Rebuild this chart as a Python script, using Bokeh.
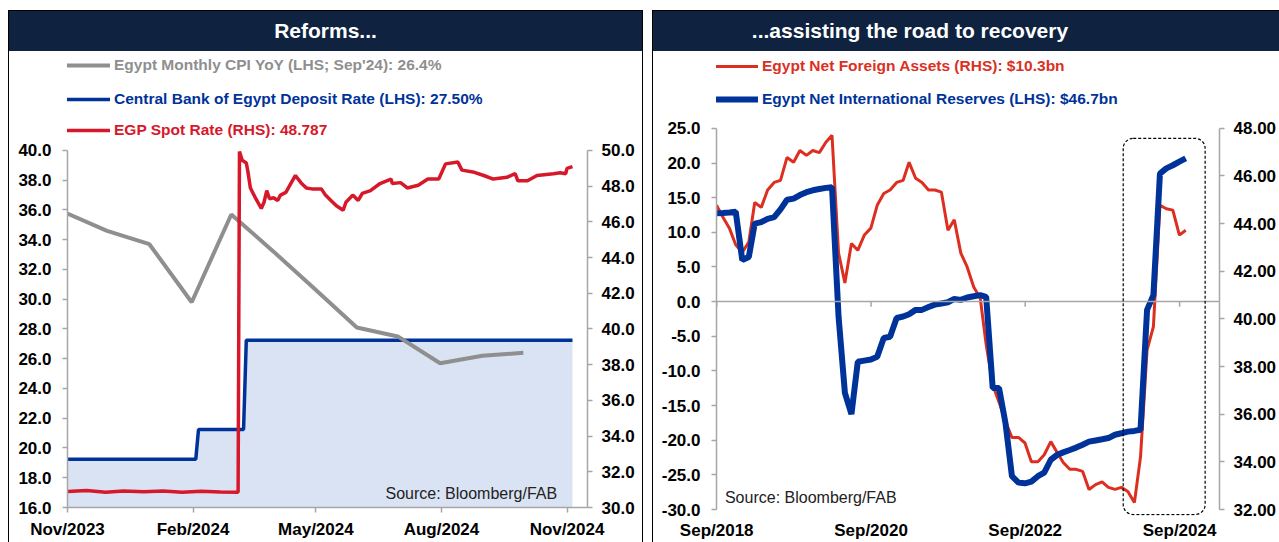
import pandas as pd
from bokeh.plotting import figure
from bokeh.models import (Range1d, LinearAxis, DatetimeTickFormatter, FixedTicker, Legend,
                          LegendItem, Label, Span, BoxAnnotation, NumeralTickFormatter, Div)
from bokeh.layouts import row, column
from bokeh.embed import file_html
from bokeh.resources import INLINE

# ---------------- data : left panel ("Reforms...") ----------------
cpi_dates = ["2023-10-31", "2023-11-30", "2023-12-31", "2024-01-31", "2024-02-29", "2024-03-31",
             "2024-04-30", "2024-05-31", "2024-06-30", "2024-07-31", "2024-08-31", "2024-09-30"]
cpi_yoy = [35.8, 34.6, 33.7, 29.8, 35.7, 33.2, 30.7, 28.1, 27.5, 25.7, 26.2, 26.4]

dep_dates = ["2023-11-01", "2024-02-03", "2024-02-05", "2024-03-09", "2024-03-11", "2024-11-05"]
dep_rate = [19.25, 19.25, 21.25, 21.25, 27.25, 27.25]

fx_dates = ["2023-11-01", "2023-11-15", "2023-11-29", "2023-12-12", "2023-12-27", "2024-01-10",
            "2024-01-24", "2024-02-07", "2024-02-21", "2024-03-05", "2024-03-06", "2024-03-08",
            "2024-03-11", "2024-03-12", "2024-03-14", "2024-03-18", "2024-03-22", "2024-03-24",
            "2024-03-26", "2024-03-28", "2024-03-31", "2024-04-03", "2024-04-05", "2024-04-09",
            "2024-04-13", "2024-04-16", "2024-04-20", "2024-04-24", "2024-04-28", "2024-05-05",
            "2024-05-08", "2024-05-12", "2024-05-16", "2024-05-21", "2024-05-23", "2024-05-28",
            "2024-06-01", "2024-06-04", "2024-06-10", "2024-06-17", "2024-06-25", "2024-06-26",
            "2024-07-02", "2024-07-07", "2024-07-15", "2024-07-22", "2024-07-30", "2024-08-04",
            "2024-08-13", "2024-08-16", "2024-08-24", "2024-09-01", "2024-09-08", "2024-09-18",
            "2024-09-24", "2024-09-26", "2024-10-03", "2024-10-10", "2024-10-22", "2024-10-27",
            "2024-10-31", "2024-11-01", "2024-11-05"]
fx_rate = [30.90, 30.95, 30.85, 30.92, 30.88, 30.93, 30.86, 30.91, 30.87, 30.85, 49.95, 49.45,
           49.3, 48.9, 47.9, 47.3, 46.75, 47.1, 47.75, 47.3, 47.35, 47.2, 47.5, 47.65,
           48.2, 48.6, 48.2, 47.9, 47.85, 47.85, 47.5, 47.2, 46.9, 46.65, 47.1, 47.5,
           47.2, 47.6, 47.75, 48.15, 48.4, 48.15, 48.2, 47.9, 48.05, 48.4, 48.4, 49.25,
           49.35, 48.9, 48.8, 48.6, 48.4, 48.5, 48.7, 48.3, 48.3, 48.6, 48.7, 48.75,
           48.7, 49.0, 49.1]

left_x_ticks = ["2023-11-01", "2024-02-01", "2024-05-01", "2024-08-01", "2024-11-01"]
left_lhs_ticks = [16, 18, 20, 22, 24, 26, 28, 30, 32, 34, 36, 38, 40]
left_rhs_ticks = [30, 32, 34, 36, 38, 40, 42, 44, 46, 48, 50]

# ---------------- data : right panel ("...assisting the road to recovery") ----------------
nfa_bn = [13.9, 12.2, 10.6, 8.2, 7.1, 8.6, 14.3, 13.6, 16.1, 17.2, 17.5, 20.8,
          20.1, 21.8, 21.1, 21.8, 21.5, 23.0, 24.0, 7.0, 2.7, 8.4, 7.4, 9.6,
          10.6, 13.9, 15.6, 16.1, 17.2, 17.5, 20.1, 17.8, 17.2, 16.1, 16.1, 15.8,
          10.3, 11.8, 7.0, 5.0, 2.1, 0.5, -6.2, -12.0, -14.5, -17.3, -19.6, -19.6,
          -20.4, -23.1, -23.1, -22.1, -20.2, -21.8, -23.2, -24.2, -24.2, -24.5, -27.1, -26.4,
          -26.0, -26.8, -27.1, -26.8, -27.4, -29.0, -22.4, -7.0, -3.6, 13.9, 13.4, 13.2,
          9.6, 10.3]
nir_bn = [44.44, 44.45, 44.47, 44.5, 42.47, 42.6, 44.0, 44.06, 44.2, 44.27, 44.6, 45.0,
          45.05, 45.2, 45.32, 45.4, 45.45, 45.5, 45.53, 40.1, 36.9, 36.0, 38.2, 38.25,
          38.3, 38.41, 39.2, 39.25, 40.04, 40.1, 40.2, 40.38, 40.38, 40.5, 40.6, 40.65,
          40.7, 40.84, 40.8, 40.9, 40.95, 41.0, 40.93, 37.1, 37.1, 35.6, 33.4, 33.13,
          33.1, 33.17, 33.4, 33.55, 34.09, 34.3, 34.4, 34.5, 34.6, 34.72, 34.85, 34.9,
          34.95, 35.0, 35.14, 35.2, 35.27, 35.3, 35.35, 40.38, 41.0, 46.1, 46.32, 46.45,
          46.6, 46.74]
months = pd.date_range("2018-08-31", periods=len(nfa_bn), freq="ME")

right_x_ticks = ["2018-09-01", "2020-09-01", "2022-09-01", "2024-09-01"]
right_lhs_ticks = [-30, -25, -20, -15, -10, -5, 0, 5, 10, 15, 20, 25]
right_rhs_ticks = [32, 34, 36, 38, 40, 42, 44, 46, 48]

# ---------------- styling ----------------
NAVY = "#0f2341"
AXC = "#a6a6a6"
GRAY = "#8f8f8f"
BLUE = "#003399"
RED_L = "#d7182a"
RED_R = "#dc2f1f"
FILL = "#dae3f3"
FONT = "Liberation Sans"
W1, W2 = 633, 626
HH, HM = 40, 491


def ms(d):
    return pd.Timestamp(d).value // 10**6


def style_axis(ax, standoff, line=True):
    ax.axis_line_color = AXC if line else None
    ax.axis_line_width = 1.5
    ax.major_tick_line_color = AXC if line else None
    ax.major_tick_line_width = 1.5
    ax.major_tick_out = 5 if line else 0
    ax.major_tick_in = 0
    ax.minor_tick_line_color = None
    ax.major_label_text_font = FONT
    ax.major_label_text_font_style = "bold"
    ax.major_label_text_font_size = "17px"
    ax.major_label_text_color = "black"
    ax.major_label_standoff = standoff


def date_fmt():
    f = "%b/%Y"
    return DatetimeTickFormatter(days=f, months=f, years=f)


def header(width, text, center_w):
    html = (f'<div style="width:{center_w}px;text-align:center;">{text}</div>')
    return Div(text=html, width=width, height=HH, margin=0,
               styles={"background-color": NAVY, "color": "white",
                       "font-family": "'Liberation Sans', Arial, sans-serif",
                       "font-weight": "bold", "font-size": "21px",
                       "line-height": f"{HH}px", "overflow": "hidden", "padding": "0"})


def one_legend(label, rend, color, vx, vy):
    # one legend per series so that each label takes the colour of its line
    return Legend(items=[LegendItem(label=label, renderers=[rend])], location=(vx, vy),
                  glyph_width=45, glyph_height=20, label_standoff=4, padding=0, margin=0,
                  spacing=0, border_line_color=None, background_fill_alpha=0,
                  label_text_color=color, label_text_font=FONT, label_text_font_style="bold",
                  label_text_font_size="15.5px", label_height=20)


# ================= left panel =================
# the frame is extended upward (white) so that the legends sit inside it
p1 = figure(width=W1, height=HM, x_axis_type="datetime",
            x_range=Range1d(pd.Timestamp("2023-11-01"), pd.Timestamp("2024-11-16")),
            y_range=Range1d(16, 46.52), output_backend="svg", toolbar_location=None,
            min_border_left=58, min_border_right=55, min_border_top=2, min_border_bottom=35,
            outline_line_color=None)
p1.xgrid.visible = False
p1.ygrid.visible = False
p1.extra_y_ranges = {"fx": Range1d(30, 55.434)}
ax_r1 = LinearAxis(y_range_name="fx")
p1.add_layout(ax_r1, "right")

p1.yaxis[0].ticker = FixedTicker(ticks=left_lhs_ticks)
p1.yaxis[0].formatter = NumeralTickFormatter(format="0.0")
p1.yaxis[0].bounds = (left_lhs_ticks[0], left_lhs_ticks[-1])
ax_r1.ticker = FixedTicker(ticks=left_rhs_ticks)
ax_r1.formatter = NumeralTickFormatter(format="0.0")
ax_r1.bounds = (left_rhs_ticks[0], left_rhs_ticks[-1])
p1.xaxis[0].ticker = FixedTicker(ticks=[ms(d) for d in left_x_ticks])
p1.xaxis[0].formatter = date_fmt()
style_axis(p1.yaxis[0], 11)
style_axis(ax_r1, 9)
style_axis(p1.xaxis[0], 7)

dep_x = pd.to_datetime(dep_dates)
p1.varea(x=dep_x, y1=left_lhs_ticks[0], y2=dep_rate, fill_color=FILL)
r_dep = p1.line(dep_x, dep_rate, line_color=BLUE, line_width=3.5)
r_cpi = p1.line(pd.to_datetime(cpi_dates), cpi_yoy, line_color=GRAY, line_width=4)
r_fx = p1.line(pd.to_datetime(fx_dates), fx_rate, line_color=RED_L, line_width=3.5,
               y_range_name="fx")

p1.add_layout(one_legend("Egypt Monthly CPI YoY (LHS; Sep'24): 26.4%", r_cpi, GRAY, -2, 432))
p1.add_layout(one_legend("Central Bank of Egypt Deposit Rate (LHS): 27.50%", r_dep, BLUE, -2, 398))
p1.add_layout(one_legend("EGP Spot Rate (RHS): 48.787", r_fx, RED_L, -2, 367))

p1.add_layout(Label(x=ms("2024-06-21"), y=16.94, text="Source: Bloomberg/FAB",
                    text_baseline="middle", text_font=FONT, text_font_size="16px",
                    text_color="#222222"))

h1 = header(W1, "Reforms...", W1)

# ================= right panel =================
p2 = figure(width=W2, height=HM, x_axis_type="datetime",
            x_range=Range1d(pd.Timestamp("2018-08-31"), pd.Timestamp("2025-03-09")),
            y_range=Range1d(-30.86, 35.8), output_backend="svg", toolbar_location=None,
            min_border_left=63, min_border_right=57, min_border_top=2, min_border_bottom=26,
            outline_line_color=None)
p2.xgrid.visible = False
p2.ygrid.visible = False
p2.extra_y_ranges = {"nir": Range1d(31.75, 51.14)}
ax_r2 = LinearAxis(y_range_name="nir")
p2.add_layout(ax_r2, "right")

p2.yaxis[0].ticker = FixedTicker(ticks=right_lhs_ticks)
p2.yaxis[0].formatter = NumeralTickFormatter(format="0.0")
p2.yaxis[0].bounds = (right_lhs_ticks[0], right_lhs_ticks[-1])
ax_r2.ticker = FixedTicker(ticks=right_rhs_ticks)
ax_r2.formatter = NumeralTickFormatter(format="0.00")
ax_r2.bounds = (right_rhs_ticks[0], right_rhs_ticks[-1])
p2.xaxis[0].ticker = FixedTicker(ticks=[ms(d) for d in right_x_ticks])
p2.xaxis[0].formatter = date_fmt()
style_axis(p2.yaxis[0], 11)
style_axis(ax_r2, 9)
style_axis(p2.xaxis[0], 5, line=False)

# zero line acting as the category axis, with its tick marks
p2.add_layout(Span(location=0, dimension="width", line_color=AXC, line_width=1.5))
tick_x = pd.to_datetime(right_x_ticks)
p2.segment(x0=tick_x, y0=0, x1=tick_x, y1=-0.75, line_color=AXC, line_width=1.5)

r_nfa = p2.line(months, nfa_bn, line_color=RED_R, line_width=3)
r_nir = p2.line(months, nir_bn, line_color=BLUE, line_width=6, y_range_name="nir")

p2.add_layout(BoxAnnotation(left=ms("2023-12-09"), right=ms("2024-12-31"), bottom=-30.72,
                            top=23.55, fill_alpha=0, line_color="black", line_alpha=1.0,
                            line_width=1.2, line_dash="3 2", border_radius=10))

p2.add_layout(one_legend("Egypt Net Foreign Assets (RHS): $10.3bn", r_nfa, RED_R, -3, 439))
p2.add_layout(one_legend("Egypt Net International Reserves (LHS): $46.7bn", r_nir, BLUE, -3, 406))

p2.add_layout(Label(x=ms("2018-10-10"), y=-28.3, text="Source: Bloomberg/FAB",
                    text_baseline="middle", text_font=FONT, text_font_size="16px",
                    text_color="#222222"))

h2 = header(W2, "...assisting the road to recovery", 514)

left_panel = column(h1, p1, styles={"border-top": "1px solid #000", "border-left": "1px solid #000",
                                    "border-right": "1px solid #000"})
right_panel = column(h2, p2, styles={"border-top": "1px solid #000", "border-left": "1px solid #000"})
layout = row(left_panel, right_panel, spacing=9,
             styles={"margin-left": "8px", "margin-top": "10px"})

open("out.html", "w").write(file_html(layout, INLINE))
